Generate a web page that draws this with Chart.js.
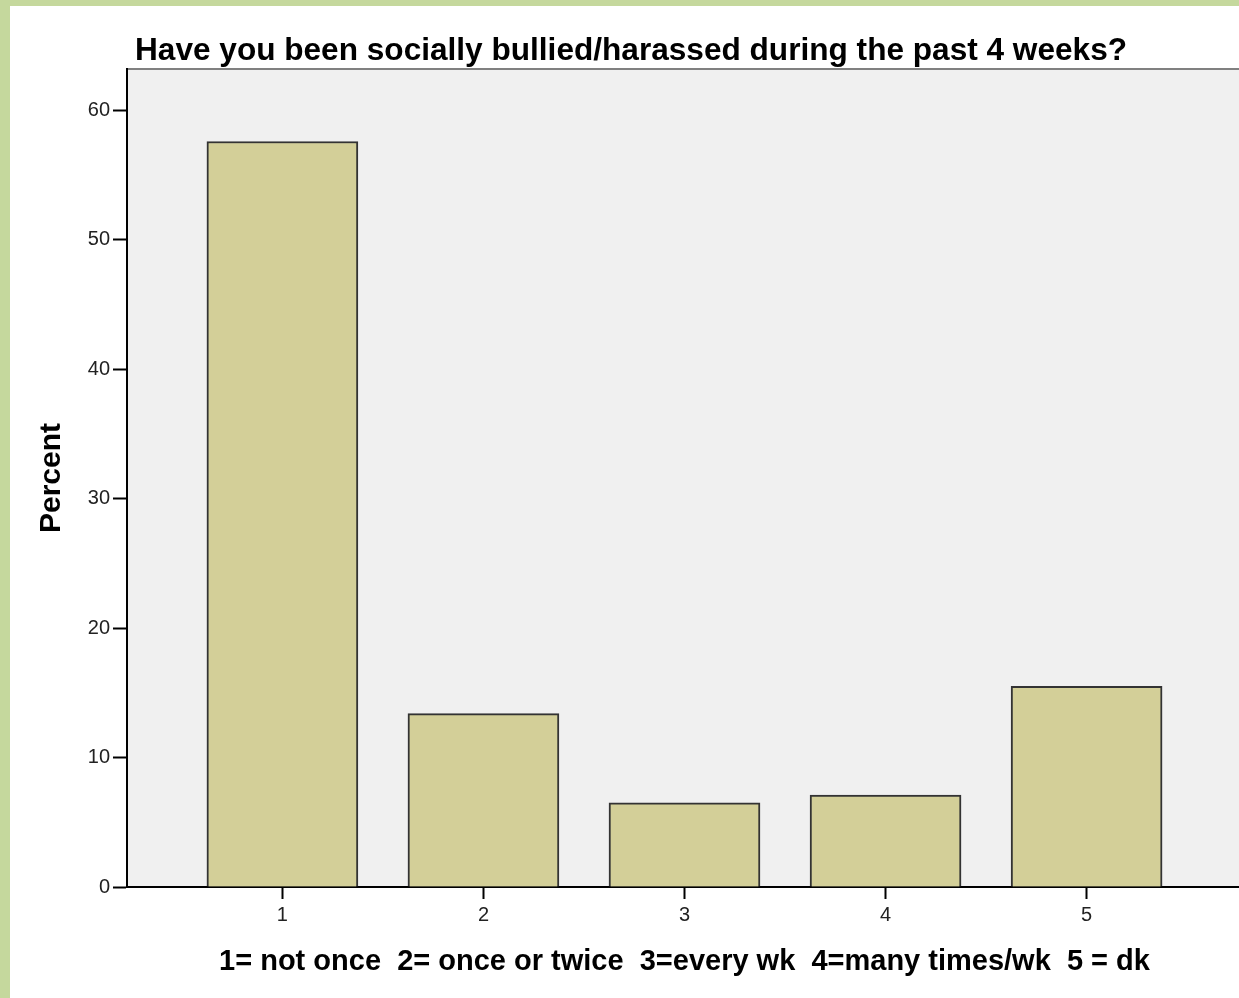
<!DOCTYPE html>
<html lang="en">

<head>
  <meta charset="UTF-8">
  <title>Chart</title>
  <script src="https://cdn.jsdelivr.net/npm/chart.js@4.4.1/dist/chart.umd.min.js"></script>
  <style>
    html, body { margin: 0; padding: 0; overflow: hidden; background: #c5d89d; }
    #frame { position: absolute; left: 10px; top: 6px; width: 1240px; height: 992px; background: #fff; }
  </style>
</head>

<body>
  <div id="frame">
    <canvas id="chart" width="1232" height="992"></canvas>
  </div>

  <script>
    const categories = [1, 2, 3, 4, 5];
    const percents = [57.6, 13.4, 6.5, 7.1, 15.5];
    const yTicks = [0, 10, 20, 30, 40, 50, 60];

    const titleText = 'Have you been socially bullied/harassed during the past 4 weeks?';
    const xTitle = '1= not once  2= once or twice  3=every wk  4=many times/wk  5 = dk';
    const yTitle = 'Percent';

    const fontFamily = '"Liberation Sans", Arial, sans-serif';
    Chart.defaults.font.family = fontFamily;

    // grey plot background, grey line on top, and the chart title left of centre
    const plotBackground = {
      id: 'plotBackground',
      beforeDraw(chart) {
        const { ctx, chartArea: a } = chart;
        ctx.save();
        ctx.fillStyle = '#f0f0f0';
        ctx.fillRect(a.left, a.top, a.right - a.left, a.bottom - a.top);
        ctx.strokeStyle = '#808080';
        ctx.lineWidth = 2;
        ctx.beginPath();
        ctx.moveTo(a.left, a.top);
        ctx.lineTo(a.right, a.top);
        ctx.stroke();
        ctx.fillStyle = '#000';
        ctx.font = 'bold 31.6px ' + fontFamily;
        ctx.textAlign = 'left';
        ctx.textBaseline = 'alphabetic';
        ctx.fillText(titleText, a.left + 8, a.top - 9);
        ctx.restore();
      }
    };

    drawChart();

    function drawChart() {
      const context = document.getElementById('chart').getContext('2d');
      new Chart(context, {
        type: 'bar',
        data: {
          datasets: [{
            label: yTitle,
            data: categories.map((c, i) => ({ x: c, y: percents[i] })),
            backgroundColor: '#d3cf98',
            borderColor: '#333333',
            borderWidth: 2,
            borderSkipped: 'bottom',
            barThickness: 151
          }]
        },
        options: {
          responsive: false,
          animation: false,
          layout: { padding: { top: 63, left: 0, right: 0, bottom: 0 } },
          plugins: {
            legend: { display: false },
            tooltip: { enabled: false },
            title: { display: false }
          },
          scales: {
            x: {
              type: 'linear',
              min: 0.227,
              max: 5.773,
              offset: false,
              afterFit(scale) { scale.height = 111; },
              afterBuildTicks(scale) { scale.ticks = categories.map(v => ({ value: v })); },
              grid: { offset: false, drawOnChartArea: false, tickLength: 12, tickColor: '#000', tickWidth: 2 },
              border: { color: '#000', width: 2 },
              ticks: { color: '#222', font: { size: 20 }, padding: 4 },
              title: {
                display: true,
                text: xTitle,
                color: '#000',
                font: { size: 29, weight: 'bold' },
                padding: { top: 0, bottom: 19 }
              }
            },
            y: {
              min: 0,
              max: 63.2,
              afterFit(scale) { scale.width = 117; },
              afterBuildTicks(scale) { scale.ticks = yTicks.map(v => ({ value: v })); },
              grid: { drawOnChartArea: false, tickLength: 14, tickColor: '#000', tickWidth: 2 },
              border: { color: '#000', width: 2 },
              ticks: { color: '#222', font: { size: 20 }, padding: 3 },
              title: {
                display: true,
                text: yTitle,
                color: '#000',
                font: { size: 30, weight: 'bold' },
                padding: { top: 24, bottom: 0 }
              }
            }
          }
        },
        plugins: [plotBackground]
      });
    }
  </script>
</body>

</html>
